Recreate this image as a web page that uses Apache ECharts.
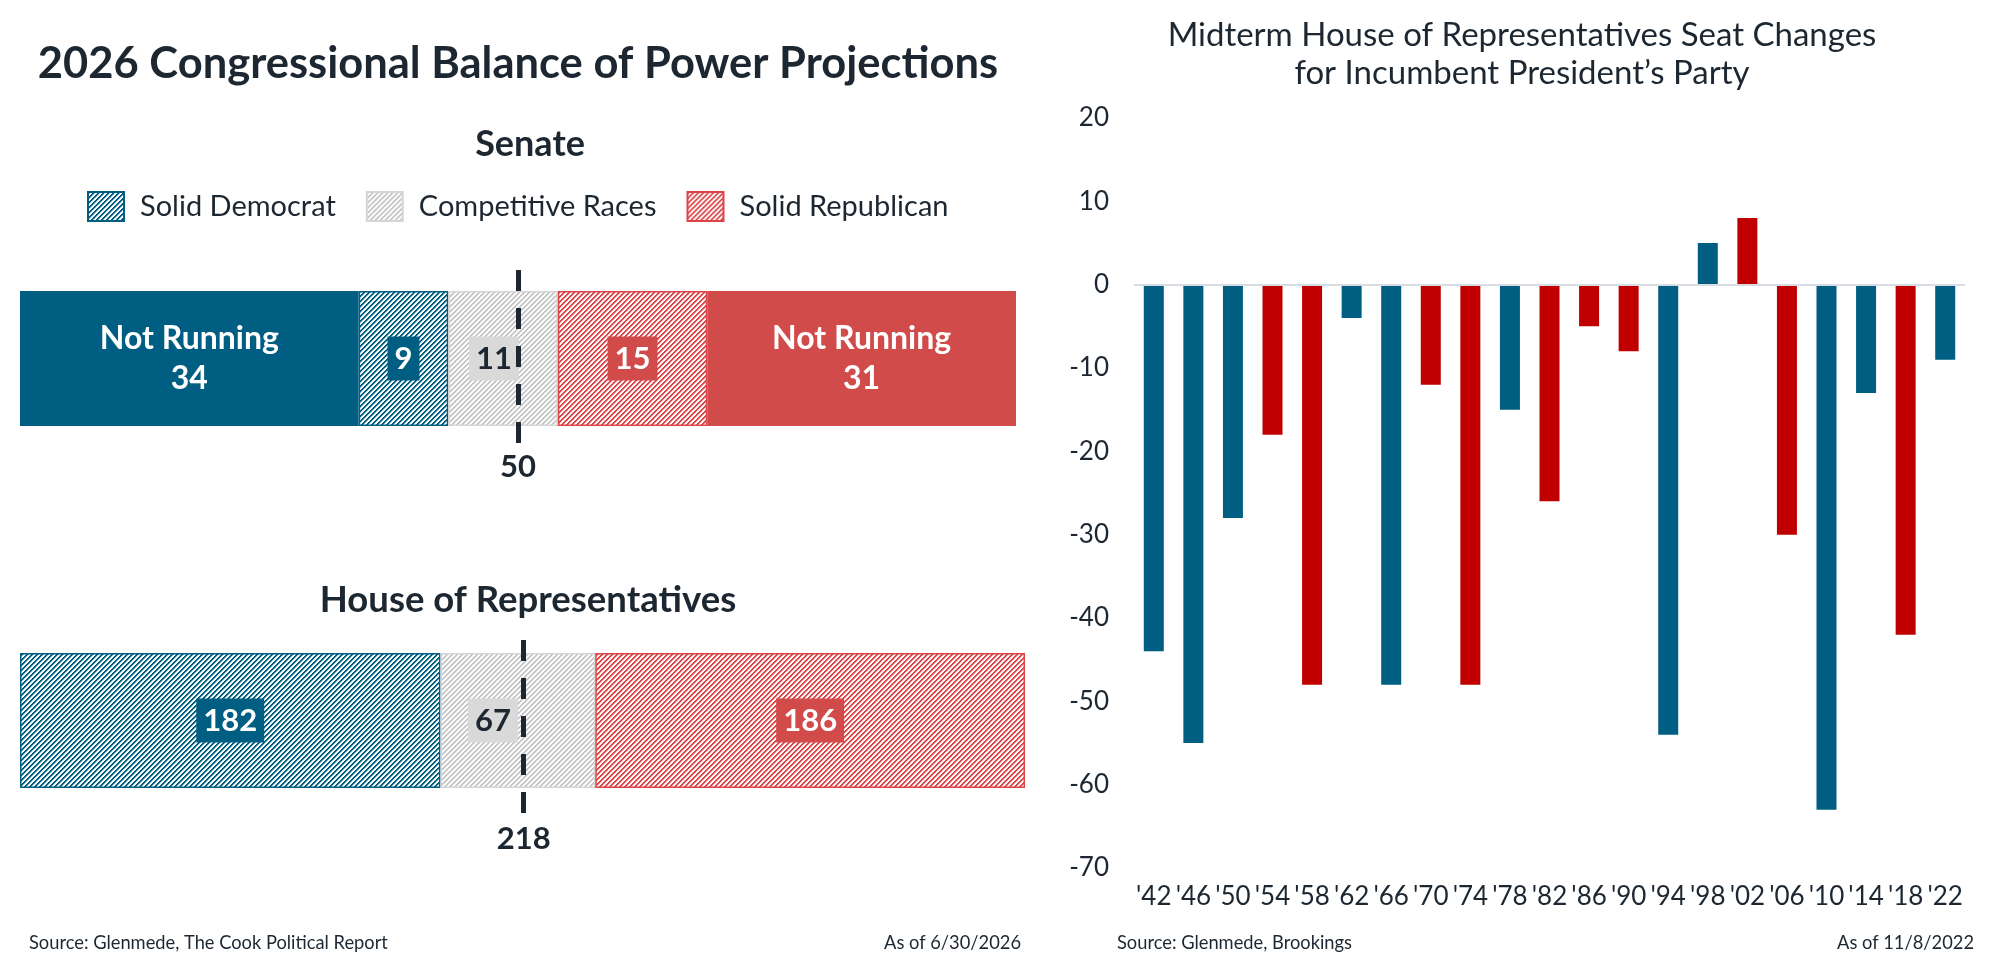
<!DOCTYPE html>
<html>
<head>
<meta charset="utf-8">
<script src="https://cdn.jsdelivr.net/npm/echarts@6/dist/echarts.min.js"></script>
<style>
html,body{margin:0;padding:0;background:#fff;}
#chart{width:2000px;height:964px;}
</style>
</head>
<body>
<div id="chart"></div>
<script>
// ---------- Data ----------
const senateCategories = ['Senate'];
const senateNotRunningDem = [34];
const senateSolidDem = [9];
const senateCompetitive = [11];
const senateSolidRep = [15];
const senateNotRunningRep = [31];
const senateMajority = 50;

const houseCategories = ['House'];
const houseSolidDem = [182];
const houseCompetitive = [67];
const houseSolidRep = [186];
const houseMajority = 218;

const legendNames = ['Solid Democrat', 'Competitive Races', 'Solid Republican'];

const midtermYears = ["'42","'46","'50","'54","'58","'62","'66","'70","'74","'78","'82","'86","'90","'94","'98","'02","'06","'10","'14","'18","'22"];
const seatChanges = [-44,-55,-28,-18,-48,-4,-48,-12,-48,-15,-26,-5,-8,-54,5,8,-30,-63,-13,-42,-9];
const presidentParty = ['D','D','D','R','R','D','D','R','R','D','R','R','R','D','D','R','R','D','D','R','D'];
const yTicks = {min: -70, max: 20, interval: 10};

// ---------- Styles ----------
const DARK = '#1d2731';
const BLUE = '#005e82';
const RED_SOFT = '#d24b4b';
const RED_HATCH = '#dc4448';
const GREY_HATCH = '#c4c4c4';
const GREY_BOX = '#d9d9d9';
const CHART_BLUE = '#005e82';
const CHART_RED = '#c00000';
const FONT = 'Lato';

function hatch(color) {
  const p = 5;
  const c = document.createElement('canvas');
  c.width = p; c.height = p;
  const g = c.getContext('2d');
  g.fillStyle = '#ffffff';
  g.fillRect(0, 0, p, p);
  g.fillStyle = color;
  for (let x = 0; x < p; x++) {
    for (let y = 0; y < p; y++) {
      const k = (x + y) % p;
      if (k < 2) { g.globalAlpha = 1; g.fillRect(x, y, 1, 1); }
      else if (k === 2) { g.globalAlpha = 0.4; g.fillRect(x, y, 1, 1); }
    }
  }
  return {image: c, repeat: 'repeat'};
}

const demHatch = hatch(BLUE);
const repHatch = hatch(RED_HATCH);
const greyHatch = hatch(GREY_HATCH);

const boxLabel = (bg, fg) => ({
  show: true, position: 'inside', color: fg, backgroundColor: bg,
  fontFamily: FONT, fontWeight: 'bold', fontSize: 31, lineHeight: 36, padding: [4, 7]
});
const notRunningLabel = {
  show: true, position: 'inside', color: '#ffffff', fontFamily: FONT, fontWeight: 'bold',
  fontSize: 32, lineHeight: 40, formatter: 'Not Running\n{c}'
};
const dashStyle = {color: DARK, width: 5, type: [21, 17]};
const majorityLabel = v => ({show: true, position: 'end', distance: 8, color: DARK, fontFamily: FONT,
  fontWeight: 'bold', fontSize: 31, formatter: () => String(v)});

const chart = echarts.init(document.getElementById('chart'), null, {renderer: 'canvas'});

const sum = a => a.reduce((s, v) => s + v, 0);
const senateTotal = sum([senateNotRunningDem[0], senateSolidDem[0], senateCompetitive[0], senateSolidRep[0], senateNotRunningRep[0]]);
const houseTotal = sum([houseSolidDem[0], houseCompetitive[0], houseSolidRep[0]]);

const txt = (x, y, text, font, align) => ({type: 'text', x: x, y: y,
  style: {text: text, font: font, fill: DARK, align: align, verticalAlign: 'middle', textAlign: align, textVerticalAlign: 'middle'}});

const option = {
  animation: false,
  backgroundColor: '#ffffff',
  textStyle: {fontFamily: FONT, color: DARK},
  legend: {
    data: legendNames,
    left: 82, top: 186,
    icon: 'rect', itemWidth: 36, itemHeight: 29, itemGap: 30,
    selectedMode: false,
    textStyle: {fontFamily: FONT, fontSize: 29, color: DARK, padding: [0, 0, 0, 11]}
  },
  grid: [
    {left: 20, width: 996, top: 291, height: 135},
    {left: 20, width: 1005, top: 653, height: 135},
    {left: 1134, width: 831, top: 118, height: 750}
  ],
  xAxis: [
    {gridIndex: 0, type: 'value', min: 0, max: senateTotal, show: false},
    {gridIndex: 1, type: 'value', min: 0, max: houseTotal, show: false},
    {gridIndex: 2, type: 'category', data: midtermYears,
     axisLine: {show: false, onZero: false}, axisTick: {show: false},
     axisLabel: {interval: 0, fontFamily: FONT, fontSize: 26, color: DARK, margin: 16}}
  ],
  yAxis: [
    {gridIndex: 0, type: 'category', data: senateCategories, show: false},
    {gridIndex: 1, type: 'category', data: houseCategories, show: false},
    {gridIndex: 2, type: 'value', min: yTicks.min, max: yTicks.max, interval: yTicks.interval,
     axisLine: {show: false}, axisTick: {show: false}, splitLine: {show: false},
     axisLabel: {fontFamily: FONT, fontSize: 26, color: DARK, margin: 25}}
  ],
  series: [
    // Senate
    {name: 'Not Running (D)', type: 'bar', stack: 'senate', xAxisIndex: 0, yAxisIndex: 0, barWidth: '100%',
     data: senateNotRunningDem, itemStyle: {color: BLUE}, label: notRunningLabel},
    {name: 'Solid Democrat', type: 'bar', stack: 'senate', xAxisIndex: 0, yAxisIndex: 0, barWidth: '100%',
     data: senateSolidDem, itemStyle: {color: demHatch, borderColor: BLUE, borderWidth: 1.5},
     label: boxLabel(BLUE, '#ffffff')},
    {name: 'Competitive Races', type: 'bar', stack: 'senate', xAxisIndex: 0, yAxisIndex: 0, barWidth: '100%',
     data: senateCompetitive, itemStyle: {color: greyHatch, borderColor: '#d6d6d6', borderWidth: 1.5},
     label: Object.assign(boxLabel(GREY_BOX, DARK), {offset: [-9, 0]}),
     markLine: {silent: true, symbol: 'none', lineStyle: dashStyle, label: majorityLabel(senateMajority),
       data: [[{xAxis: senateMajority, y: 270}, {xAxis: senateMajority, y: 443}]]}},
    {name: 'Solid Republican', type: 'bar', stack: 'senate', xAxisIndex: 0, yAxisIndex: 0, barWidth: '100%',
     data: senateSolidRep, itemStyle: {color: repHatch, borderColor: RED_HATCH, borderWidth: 1.5},
     label: boxLabel(RED_SOFT, '#ffffff')},
    {name: 'Not Running (R)', type: 'bar', stack: 'senate', xAxisIndex: 0, yAxisIndex: 0, barWidth: '100%',
     data: senateNotRunningRep, itemStyle: {color: RED_SOFT}, label: notRunningLabel},
    // House
    {name: 'Solid Democrat', type: 'bar', stack: 'house', xAxisIndex: 1, yAxisIndex: 1, barWidth: '100%',
     data: houseSolidDem, itemStyle: {color: demHatch, borderColor: BLUE, borderWidth: 1.5},
     label: boxLabel(BLUE, '#ffffff')},
    {name: 'Competitive Races', type: 'bar', stack: 'house', xAxisIndex: 1, yAxisIndex: 1, barWidth: '100%',
     data: houseCompetitive, itemStyle: {color: greyHatch, borderColor: '#d6d6d6', borderWidth: 1.5},
     label: Object.assign(boxLabel(GREY_BOX, DARK), {offset: [-25, 0]}),
     markLine: {silent: true, symbol: 'none', lineStyle: dashStyle, label: majorityLabel(houseMajority),
       data: [[{xAxis: houseMajority, y: 640}, {xAxis: houseMajority, y: 815}]]}},
    {name: 'Solid Republican', type: 'bar', stack: 'house', xAxisIndex: 1, yAxisIndex: 1, barWidth: '100%',
     data: houseSolidRep, itemStyle: {color: repHatch, borderColor: RED_HATCH, borderWidth: 1.5},
     label: boxLabel(RED_SOFT, '#ffffff')},
    // Midterm seat changes
    {name: 'Seat Change', type: 'bar', xAxisIndex: 2, yAxisIndex: 2, barWidth: 20,
     data: seatChanges.map((v, i) => ({value: v, itemStyle: {color: presidentParty[i] === 'D' ? CHART_BLUE : CHART_RED}})),
     markLine: {silent: true, symbol: 'none', label: {show: false},
       lineStyle: {color: '#d7dde3', width: 2, type: 'solid'}, data: [{yAxis: 0}]}}
  ],
  graphic: [
    txt(518, 64, '2026 Congressional Balance of Power Projections', 'bold 43.5px Lato', 'center'),
    txt(530, 144, 'Senate', 'bold 36px Lato', 'center'),
    txt(528, 600, 'House of Representatives', 'bold 36.5px Lato', 'center'),
    txt(29, 943, 'Source: Glenmede, The Cook Political Report', '18.3px Lato', 'left'),
    txt(1021, 943, 'As of 6/30/2026', '18.3px Lato', 'right'),
    txt(1522, 35, 'Midterm House of Representatives Seat Changes', '33px Lato', 'center'),
    txt(1522, 73, 'for Incumbent President\u2019s Party', '33px Lato', 'center'),
    txt(1117, 943, 'Source: Glenmede, Brookings', '18.3px Lato', 'left'),
    txt(1974, 943, 'As of 11/8/2022', '18.3px Lato', 'right')
  ]
};

chart.setOption(option);
</script>
</body>
</html>
